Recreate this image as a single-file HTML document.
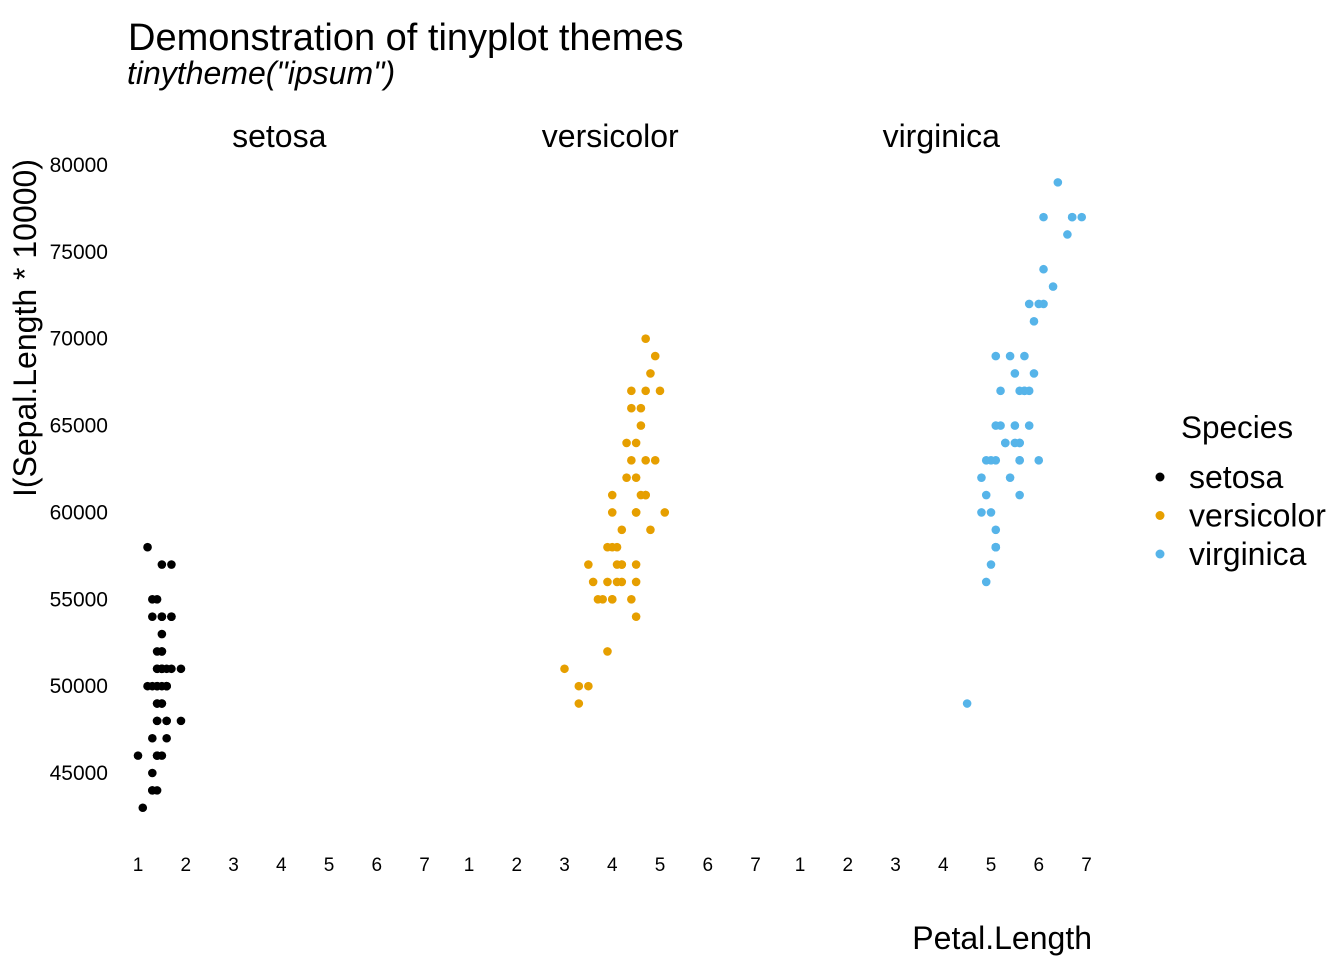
<!DOCTYPE html>
<html><head><meta charset="utf-8"><style>
html,body{margin:0;padding:0;background:#fff;}
svg{display:block;font-family:"Liberation Sans",sans-serif;}
</style></head><body>
<svg id="chart" width="1344" height="960">
<text x="128" y="50" font-size="38">Demonstration of tinyplot themes</text>
<text x="127" y="84" font-size="32" font-style="italic">tinytheme("ipsum")</text>
<text transform="translate(36,328) rotate(-90)" text-anchor="middle" font-size="32">I(Sepal.Length * 10000)</text>
<text x="1092" y="949" text-anchor="end" font-size="32">Petal.Length</text>
<g id="legend">
<text x="1181" y="438" font-size="31.5">Species</text>
</g>
</svg>
<script>
const species = ["setosa","versicolor","virginica"];
const colors = ["#000000","#E69F00","#56B4E9"];
const xTicks = [1,2,3,4,5,6,7];
const yTicks = [45000,50000,55000,60000,65000,70000,75000,80000];
const setosaPetal = [1.4,1.4,1.3,1.5,1.4,1.7,1.4,1.5,1.4,1.5,1.5,1.6,1.4,1.1,1.2,1.5,1.3,1.4,1.7,1.5,1.7,1.5,1.0,1.7,1.9,1.6,1.6,1.5,1.4,1.6,1.6,1.5,1.5,1.4,1.5,1.2,1.3,1.4,1.3,1.5,1.3,1.3,1.3,1.6,1.9,1.4,1.6,1.4,1.5,1.4];
const setosaSepal = [5.1,4.9,4.7,4.6,5.0,5.4,4.6,5.0,4.4,4.9,5.4,4.8,4.8,4.3,5.8,5.7,5.4,5.1,5.7,5.1,5.4,5.1,4.6,5.1,4.8,5.0,5.0,5.2,5.2,4.7,4.8,5.4,5.2,5.5,4.9,5.0,5.5,4.9,4.4,5.1,5.0,4.5,4.4,5.0,5.1,4.8,5.1,4.6,5.3,5.0];
const versicolorPetal = [4.7,4.5,4.9,4.0,4.6,4.5,4.7,3.3,4.6,3.9,3.5,4.2,4.0,4.7,3.6,4.4,4.5,4.1,4.5,3.9,4.8,4.0,4.9,4.7,4.3,4.4,4.8,5.0,4.5,3.5,3.8,3.7,3.9,5.1,4.5,4.5,4.7,4.4,4.1,4.0,4.4,4.6,4.0,3.3,4.2,4.2,4.2,4.3,3.0,4.1];
const versicolorSepal = [7.0,6.4,6.9,5.5,6.5,5.7,6.3,4.9,6.6,5.2,5.0,5.9,6.0,6.1,5.6,6.7,5.6,5.8,6.2,5.6,5.9,6.1,6.3,6.1,6.4,6.6,6.8,6.7,6.0,5.7,5.5,5.5,5.8,6.0,5.4,6.0,6.7,6.3,5.6,5.5,5.5,6.1,5.8,5.0,5.6,5.7,5.7,6.2,5.1,5.7];
const virginicaPetal = [6.0,5.1,5.9,5.6,5.8,6.6,4.5,6.3,5.8,6.1,5.1,5.3,5.5,5.0,5.1,5.3,5.5,6.7,6.9,5.0,5.7,4.9,6.7,4.9,5.7,6.0,4.8,4.9,5.6,5.8,6.1,6.4,5.6,5.1,5.6,6.1,5.6,5.5,4.8,5.4,5.6,5.1,5.1,5.9,5.7,5.2,5.0,5.2,5.4,5.1];
const virginicaSepal = [6.3,5.8,7.1,6.3,6.5,7.6,4.9,7.3,6.7,7.2,6.5,6.4,6.8,5.7,5.8,6.4,6.5,7.7,7.7,6.0,6.9,5.6,7.7,6.3,6.7,7.2,6.2,6.1,6.4,7.2,7.4,7.9,6.4,6.3,6.1,7.7,6.3,6.4,6.0,6.9,6.7,6.9,5.8,6.8,6.7,6.7,6.3,6.5,6.2,5.9];
const petals = [setosaPetal, versicolorPetal, virginicaPetal];
const sepals = [setosaSepal, versicolorSepal, virginicaSepal];

const NS = "http://www.w3.org/2000/svg";
const svg = document.getElementById("chart");
const panelX0 = [138, 469, 800];
const xScale = (p, v) => panelX0[p] + (v - 1) * 47.75;
const yScale = v => 165 + (80000 - v) * (608 / 35000);
function mk(tag, attrs, parent) {
  const e = document.createElementNS(NS, tag);
  for (const k in attrs) e.setAttribute(k, attrs[k]);
  (parent || svg).appendChild(e);
  return e;
}
yTicks.forEach(t => {
  const e = mk("text", {x: 108, y: yScale(t) + 7, "text-anchor": "end", "font-size": 21});
  
  
  e.textContent = t;
});
species.forEach((s, p) => {
  const st = mk("text", {x: (xScale(p,1)+xScale(p,7))/2 - 2, y: 147, "text-anchor": "middle", "font-size": 32});
  
  
  st.textContent = s;
  xTicks.forEach(t => {
    const e = mk("text", {x: xScale(p, t), y: 871, "text-anchor": "middle", "font-size": 19});
    
    
    e.textContent = t;
  });
  const g = mk("g", {});
  
  
  petals[p].forEach((v, i) => {
    const c = mk("circle", {cx: xScale(p, v), cy: yScale(sepals[p][i] * 10000), r: 4.3, fill: colors[p]}, g);
    
    
  });
  const lg = document.getElementById("legend");
  const y = 477 + p * 38.5;
  const d = mk("circle", {cx: 1160, cy: y, r: 4.5, fill: colors[p]}, lg);
  
  
  const lt = mk("text", {x: 1189, y: y + 11, "font-size": 32}, lg);
  
  
  lt.textContent = s;
});
</script>
</body></html>
